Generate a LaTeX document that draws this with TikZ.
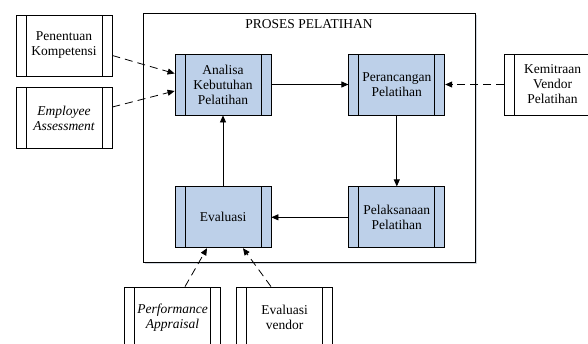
\documentclass[tikz,border=0pt]{standalone}
\usepackage{fontspec}
\setmainfont{Liberation Serif}
\usetikzlibrary{arrows.meta,positioning,shadows}

\definecolor{procblue}{RGB}{189,208,233}

\begin{document}
\begin{tikzpicture}[
    x=1pt, y=-1pt,
    every node/.style={font=\fontsize{13.5}{15}\selectfont},
    proc/.style={rectangle, draw, line width=0.8pt, minimum width=96pt, minimum height=61pt, align=center, inner sep=0pt,
        path picture={
            \draw[line width=0.8pt] ([xshift=10pt]path picture bounding box.north west) -- ([xshift=10pt]path picture bounding box.south west);
            \draw[line width=0.8pt] ([xshift=-10pt]path picture bounding box.north east) -- ([xshift=-10pt]path picture bounding box.south east);
        }},
    inproc/.style={proc, fill=procblue},
    outproc/.style={proc, fill=white},
    arrow/.style={-{Triangle[length=7pt,width=6pt]}, line width=0.8pt},
    dasharrow/.style={arrow, dash pattern=on 8pt off 5pt}
]
\useasboundingbox (0,0) rectangle (588,343);

% frame of the training process
\node[rectangle, draw, line width=0.8pt, fill=white, minimum width=332pt, minimum height=249pt,
      drop shadow={shadow xshift=1.5pt, shadow yshift=-1.5pt, fill=procblue!60!gray, opacity=0.5}]
      (proses) at (309,137.5) {};
\node[below=3pt of proses.north] (judul) {PROSES PELATIHAN};

% process steps
\node[inproc] (analisa) at (223,84.5) {Analisa\\Kebutuhan\\Pelatihan};
\node[inproc, right=77pt of analisa] (perancangan) {Perancangan\\Pelatihan};
\node[inproc, below=71pt of perancangan] (pelaksanaan) {Pelaksanaan\\Pelatihan};
\node[inproc, below=71pt of analisa] (evaluasi) {Evaluasi};

% inputs
\node[outproc] (penentuan) at (64,45.5) {Penentuan\\Kompetensi};
\node[outproc] (employee) at (64,118) {\itshape Employee\\\itshape Assessment};
\node[outproc, right=59pt of perancangan] (kemitraan) {Kemitraan\\Vendor\\Pelatihan};
\node[outproc] (performance) at (172.5,317.5) {\itshape Performance\\\itshape Appraisal};
\node[outproc] (evvendor) at (284.5,317.5) {Evaluasi\\vendor};

\draw[arrow] (analisa) -- (perancangan);
\draw[arrow] (perancangan) -- (pelaksanaan);
\draw[arrow] (pelaksanaan) -- (evaluasi);
\draw[arrow] (evaluasi) -- (analisa);

\draw[dasharrow] ([yshift=-10pt]penentuan.east) -- ([yshift=11pt]analisa.west);
\draw[dasharrow] ([yshift=11pt]employee.east) -- ([yshift=-6.5pt]analisa.west);
\draw[dasharrow] (kemitraan) -- (perancangan);
\draw[dasharrow] ([xshift=12.5pt]performance.north) -- ([xshift=-16pt]evaluasi.south);
\draw[dasharrow] ([xshift=-13.5pt]evvendor.north) -- ([xshift=20pt]evaluasi.south);
\end{tikzpicture}
\end{document}
